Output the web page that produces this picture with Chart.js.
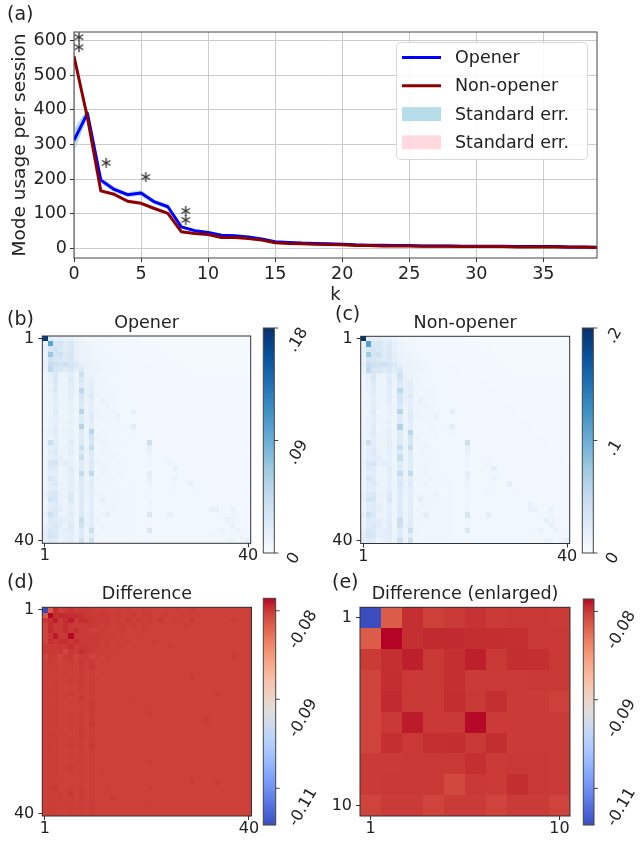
<!DOCTYPE html>
<html>
<head>
<meta charset="utf-8">
<script src="https://cdn.jsdelivr.net/npm/chart.js@4.4.0/dist/chart.umd.min.js"></script>
<style>
  html, body { margin: 0; padding: 0; background: #fff; }
  #fig { position: relative; width: 641px; height: 842px; overflow: hidden; font-family: "DejaVu Sans", sans-serif; color: #222; }
  #fig canvas { position: absolute; }
  .panel { position: absolute; font-size: 19px; line-height: 18px; }
</style>
</head>
<body>
<div id="fig">
  <canvas id="usage" width="641" height="310" style="left:0;top:0"></canvas>
  <canvas id="heat-b" width="320" height="270" style="left:0;top:300px"></canvas>
  <canvas id="heat-c" width="321" height="270" style="left:320px;top:300px"></canvas>
  <canvas id="heat-d" width="320" height="272" style="left:0;top:570px"></canvas>
  <canvas id="heat-e" width="321" height="272" style="left:320px;top:570px"></canvas>
  <canvas id="cb-b" width="66" height="250" style="left:255px;top:320px"></canvas>
  <canvas id="cb-c" width="67" height="250" style="left:574px;top:320px"></canvas>
  <canvas id="cb-d" width="66" height="252" style="left:255px;top:590px"></canvas>
  <canvas id="cb-e" width="66" height="252" style="left:575px;top:590px"></canvas>
  <div class="panel" style="left:7px;top:4px">(a)</div>
  <div class="panel" style="left:7px;top:309px">(b)</div>
  <div class="panel" style="left:335px;top:304px">(c)</div>
  <div class="panel" style="left:7px;top:572px">(d)</div>
  <div class="panel" style="left:332px;top:572px">(e)</div>
</div>
<script>
// ---- panel (a): mode usage per session ----
const kValues = [0, 1, 2, 3, 4, 5, 6, 7, 8, 9, 10, 11, 12, 13, 14, 15, 16, 17, 18, 19,
  20, 21, 22, 23, 24, 25, 26, 27, 28, 29, 30, 31, 32, 33, 34, 35, 36, 37, 38, 39];
const openerUsage = [312, 390, 197, 170, 155, 160, 134, 120, 62, 51, 46, 38, 36, 33, 27, 19, 17, 15, 14, 13,
  12, 10, 9, 9, 8, 8, 7, 7, 7, 6, 6, 6, 6, 5, 5, 5, 5, 4, 4, 3];
const nonOpenerUsage = [555, 378, 166, 156, 136, 130, 115, 101, 48, 43, 40, 31, 31, 28, 24, 16, 14, 13, 12, 11,
  10, 8, 8, 7, 7, 7, 6, 6, 6, 5, 5, 5, 5, 4, 4, 4, 4, 3, 3, 2];
const openerErr = [32, 14, 9, 8, 7, 8, 7, 7, 5, 4, 4, 3, 3, 3, 3, 2, 2, 2, 2, 2,
  2, 2, 2, 2, 2, 1, 1, 1, 1, 1, 1, 1, 1, 1, 1, 1, 1, 1, 1, 1];
const nonOpenerErr = [19, 10, 6, 5, 5, 5, 5, 4, 4, 3, 3, 3, 3, 2, 2, 2, 2, 2, 2, 2,
  2, 2, 1, 1, 1, 1, 1, 1, 1, 1, 1, 1, 1, 1, 1, 1, 1, 1, 1, 1];
// significance markers (*)
const starK = [0.37, 0.37, 2.4, 5.35, 8.33, 8.33];
const starUsage = [610, 581, 247, 206, 108, 82];
const usageXTicks = [0, 5, 10, 15, 20, 25, 30, 35];
const usageYTicks = [0, 100, 200, 300, 400, 500, 600];

// ---- panels (b), (c): transition shares, x 1e-3 ----
const openerShare = [
  [172,20,16,18,14,16,10,8,6,6,5,5,5,4,4,4,4,4,4,3,3,3,3,3,3,3,3,3,3,3,3,3,3,3,3,3,3,3,3,3],
  [12,100,28,30,20,26,16,10,8,7,6,6,5,5,5,5,4,4,4,4,4,4,3,3,3,3,3,3,3,3,3,3,3,3,3,3,3,3,3,3],
  [16,30,34,26,22,28,14,10,9,8,7,6,6,5,5,5,5,4,4,4,4,4,4,4,3,3,3,3,3,3,3,3,3,3,3,3,3,3,3,3],
  [14,70,32,36,24,30,16,12,9,8,8,7,6,6,5,5,5,5,4,4,4,4,4,4,4,3,3,3,3,3,3,3,3,3,3,3,3,3,3,3],
  [12,34,30,28,22,28,18,12,10,9,8,7,7,6,6,5,5,5,5,4,4,4,4,4,4,4,3,3,3,3,3,3,3,3,3,3,3,3,3,3],
  [16,44,38,34,38,32,26,16,12,10,9,8,7,7,6,6,6,5,5,5,5,4,4,4,4,4,4,3,3,3,3,3,3,3,3,3,3,3,3,3],
  [14,50,30,30,22,28,18,24,12,10,10,9,8,7,7,6,6,6,5,5,5,5,4,4,4,4,4,4,3,3,3,3,3,3,3,3,3,3,3,3],
  [10,18,26,12,12,20,10,38,12,10,8,7,7,6,6,6,5,5,5,5,5,5,5,4,4,4,4,4,4,4,4,4,4,4,4,4,4,4,4,4],
  [8,14,28,10,10,22,10,26,14,16,9,8,7,6,6,6,5,5,5,5,5,5,5,5,4,4,4,4,4,4,4,4,4,4,4,4,4,4,4,4],
  [8,12,22,12,10,20,10,22,14,20,8,9,7,7,6,6,5,5,5,5,5,5,5,5,5,4,4,4,4,4,4,4,4,4,4,4,4,4,4,4],
  [9,14,24,10,12,18,10,50,16,18,10,8,8,7,6,6,6,5,5,5,5,5,5,5,5,5,4,4,4,4,4,4,4,4,4,4,4,4,4,4],
  [8,12,18,10,10,20,10,32,14,24,9,8,8,9,6,6,6,5,5,5,5,5,5,5,5,5,5,4,4,4,4,4,4,4,4,4,4,4,4,4],
  [9,12,20,12,10,16,8,30,12,18,8,14,8,7,7,6,6,5,5,5,5,5,5,5,5,5,5,5,4,4,4,4,4,4,4,4,4,4,4,4],
  [8,10,16,10,8,14,9,24,11,16,8,9,12,7,6,6,6,5,5,5,5,5,5,5,5,5,5,5,5,4,4,4,4,4,4,4,4,4,4,4],
  [9,10,22,8,10,14,8,52,11,18,9,7,7,9,6,6,6,16,5,5,5,5,5,5,5,5,5,5,5,5,4,4,4,4,4,4,4,4,4,4],
  [8,12,18,10,8,12,8,22,10,24,8,9,7,7,12,6,6,6,5,5,5,5,5,5,5,5,5,5,5,5,5,4,4,4,4,4,4,4,4,4],
  [9,14,16,10,10,14,9,24,11,20,7,7,9,7,7,6,6,6,5,5,5,5,5,5,5,5,5,5,5,5,5,5,4,4,4,4,4,4,4,4],
  [8,12,20,8,10,12,8,56,11,18,7,7,7,8,6,7,8,22,5,5,5,5,5,5,5,5,5,5,5,5,5,5,5,4,4,4,4,4,4,4],
  [10,14,22,10,12,16,9,24,11,52,7,9,7,7,7,6,6,8,6,5,5,5,5,5,5,5,5,5,5,5,5,5,5,5,4,4,4,4,4,4],
  [9,12,18,12,10,14,8,22,10,32,9,7,7,6,7,6,6,6,6,5,5,5,5,5,5,5,5,5,5,5,5,5,5,5,5,4,4,4,4,4],
  [12,40,20,10,10,20,9,24,11,28,7,9,7,7,7,6,6,6,6,6,40,5,5,5,5,5,5,5,5,5,5,5,5,5,5,5,4,4,4,4],
  [10,16,22,10,12,16,9,40,12,42,7,7,9,7,6,7,6,6,6,6,16,5,5,5,5,5,5,5,5,5,5,5,5,5,5,5,5,4,4,4],
  [9,20,24,12,10,18,9,24,11,24,7,9,7,7,7,6,6,6,6,6,12,6,5,5,5,5,5,5,5,5,5,5,5,5,5,5,5,5,4,4],
  [10,18,20,16,10,14,8,44,11,22,7,7,7,9,7,6,6,6,6,6,8,6,6,5,5,5,5,5,5,5,5,5,5,5,5,5,5,5,5,4],
  [12,28,32,14,20,16,9,22,12,22,9,7,9,7,7,7,6,6,6,6,8,6,6,6,9,5,5,5,5,5,5,5,5,5,5,5,5,5,5,5],
  [10,24,22,10,12,20,9,24,11,24,7,9,7,7,7,6,6,6,6,6,6,6,6,6,6,14,5,5,5,5,5,5,5,5,5,5,5,5,5,5],
  [12,18,20,12,10,18,9,46,12,48,7,9,9,7,7,7,6,6,6,6,18,6,6,6,6,6,6,5,5,5,5,5,5,5,5,5,5,5,5,5],
  [10,30,22,10,10,16,9,24,11,20,9,7,7,9,7,7,6,6,6,6,14,6,6,6,6,12,6,6,5,5,5,5,5,5,5,5,5,5,5,5],
  [12,20,24,14,10,18,9,26,12,22,7,9,9,7,7,7,7,6,6,6,9,6,6,6,6,6,6,6,14,5,5,5,5,5,5,5,5,5,5,5],
  [10,18,20,10,12,16,10,22,11,18,7,7,7,7,7,6,7,6,6,6,7,6,6,6,6,6,6,6,6,7,5,5,5,5,5,5,5,5,5,5],
  [14,24,28,14,12,24,9,24,12,20,9,9,7,7,9,7,7,6,6,6,7,6,6,6,8,6,6,6,6,6,6,5,5,5,5,5,5,5,5,5],
  [12,34,30,12,10,26,10,22,11,20,7,16,7,9,7,7,7,6,6,6,7,6,6,6,6,6,6,6,6,6,6,6,5,5,5,5,5,5,5,5],
  [10,20,22,16,10,18,9,24,11,18,7,9,9,7,7,7,7,6,6,6,9,6,6,6,6,6,6,6,6,6,6,6,6,5,5,5,5,5,5,5],
  [12,22,24,18,12,16,9,22,11,20,7,7,7,9,7,7,7,6,6,6,7,6,6,6,6,6,6,6,6,6,6,6,16,14,6,6,12,5,5,5],
  [14,36,26,12,10,20,9,24,12,22,7,9,16,7,7,7,7,6,6,6,30,6,6,6,16,6,6,6,6,6,6,6,6,6,8,6,10,5,5,5],
  [10,24,22,18,14,18,9,42,11,20,9,7,7,7,7,7,7,6,6,6,7,6,6,6,6,6,6,6,6,6,6,6,6,6,6,16,9,8,5,5],
  [14,22,28,20,10,24,9,36,12,22,7,9,7,7,7,7,7,6,6,6,7,6,6,6,6,6,6,6,6,6,6,6,6,6,6,6,14,6,6,5],
  [16,28,24,14,18,22,10,22,11,40,7,7,7,7,7,7,7,6,6,6,28,6,6,6,6,6,6,6,6,6,6,6,6,6,10,6,6,12,6,6],
  [20,32,30,16,16,20,9,24,11,20,9,7,7,7,7,7,7,6,6,6,7,6,6,6,6,6,6,6,6,6,6,6,8,6,6,6,6,6,8,6],
  [18,24,22,12,14,18,10,36,11,36,7,7,7,7,7,7,7,6,6,6,7,6,6,6,6,6,6,6,6,6,6,6,6,6,6,10,12,6,10,16]
];
const nonOpenerShare = [
  [198,22,18,20,15,17,11,9,7,6,6,5,5,5,4,4,4,4,4,4,3,3,3,3,3,3,3,3,3,3,3,3,3,3,3,3,3,3,3,3],
  [14,112,30,32,22,28,18,11,9,8,7,6,6,5,5,5,5,4,4,4,4,4,4,3,3,3,3,3,3,3,3,3,3,3,3,3,3,3,3,3],
  [18,32,36,30,24,30,16,11,10,9,8,7,6,6,5,5,5,5,4,4,4,4,4,4,4,3,3,3,3,3,3,3,3,3,3,3,3,3,3,3],
  [16,74,36,40,26,32,18,13,10,9,8,8,7,6,6,5,5,5,5,4,4,4,4,4,4,4,3,3,3,3,3,3,3,3,3,3,3,3,3,3],
  [14,36,34,30,24,30,20,13,11,10,9,8,7,7,6,6,5,5,5,5,4,4,4,4,4,4,4,3,3,3,3,3,3,3,3,3,3,3,3,3],
  [18,48,42,36,40,34,28,18,13,11,10,9,8,7,7,6,6,6,5,5,5,5,4,4,4,4,4,4,3,3,3,3,3,3,3,3,3,3,3,3],
  [16,54,34,32,24,30,20,28,13,11,11,10,9,8,7,7,6,6,6,5,5,5,5,4,4,4,4,4,4,3,3,3,3,3,3,3,3,3,3,3],
  [11,20,29,13,13,22,11,42,13,11,9,8,8,7,7,7,6,6,6,6,6,6,6,4,4,4,4,4,4,4,4,4,4,4,4,4,4,4,4,4],
  [9,15,31,11,11,24,11,29,15,18,10,9,8,7,7,7,6,6,6,6,6,6,6,6,4,4,4,4,4,4,4,4,4,4,4,4,4,4,4,4],
  [9,13,24,13,11,22,11,24,15,22,9,10,8,8,7,7,6,6,6,6,6,6,6,6,6,4,4,4,4,4,4,4,4,4,4,4,4,4,4,4],
  [10,15,26,11,13,20,11,55,18,20,11,9,9,8,7,7,7,6,6,6,6,6,6,6,6,6,4,4,4,4,4,4,4,4,4,4,4,4,4,4],
  [9,13,20,11,11,22,11,35,15,26,10,9,9,10,7,7,7,6,6,6,6,6,6,6,6,6,6,4,4,4,4,4,4,4,4,4,4,4,4,4],
  [10,13,22,13,11,18,9,33,13,20,9,15,9,8,8,7,7,6,6,6,6,6,6,6,6,6,6,6,4,4,4,4,4,4,4,4,4,4,4,4],
  [9,11,18,11,9,15,10,26,12,18,9,10,13,8,7,7,7,6,6,6,6,6,6,6,6,6,6,6,6,4,4,4,4,4,4,4,4,4,4,4],
  [10,11,24,9,11,15,9,58,12,20,10,8,8,10,7,7,7,22,6,6,6,6,6,6,6,6,6,6,6,6,4,4,4,4,4,4,4,4,4,4],
  [9,13,20,11,9,13,9,24,11,26,9,10,8,8,14,7,7,7,6,6,6,6,6,6,6,6,6,6,6,6,6,4,4,4,4,4,4,4,4,4],
  [10,15,18,11,11,15,10,26,12,22,8,8,10,8,8,7,7,7,6,6,6,6,6,6,6,6,6,6,6,6,6,6,4,4,4,4,4,4,4,4],
  [9,13,22,9,11,13,9,62,12,20,8,8,8,9,7,8,9,20,6,6,6,6,6,6,6,6,6,6,6,6,6,6,6,4,4,4,4,4,4,4],
  [11,15,24,11,13,18,10,26,12,57,8,10,8,8,8,7,7,9,7,6,6,6,6,6,6,6,6,6,6,6,6,6,6,6,4,4,4,4,4,4],
  [10,13,20,13,11,15,9,24,11,35,10,8,8,7,8,7,7,7,7,6,6,6,6,6,6,6,6,6,6,6,6,6,6,6,6,4,4,4,4,4],
  [13,44,22,11,11,22,10,26,12,31,8,10,8,8,8,7,7,7,7,7,44,6,6,6,6,6,6,6,6,6,6,6,6,6,6,6,4,4,4,4],
  [11,18,24,11,13,18,10,44,13,46,8,8,10,8,7,8,7,7,7,7,18,6,6,6,6,6,6,6,6,6,6,6,6,6,6,6,6,4,4,4],
  [10,22,26,13,11,20,10,26,12,26,8,10,8,8,8,7,7,7,7,7,13,7,6,6,6,6,6,6,6,6,6,6,6,6,6,6,6,6,4,4],
  [11,20,22,18,11,15,9,48,12,24,8,8,8,10,8,7,7,7,7,7,9,7,7,6,6,6,6,6,6,6,6,6,6,6,6,6,6,6,6,4],
  [13,31,35,15,22,18,10,24,13,24,10,8,10,8,8,8,7,7,7,7,9,7,7,7,10,6,6,6,6,6,6,6,6,6,6,6,6,6,6,6],
  [11,26,24,11,13,22,10,26,12,26,8,10,8,8,8,7,7,7,7,7,7,7,7,7,7,18,6,6,6,6,6,6,6,6,6,6,6,6,6,6],
  [13,20,22,13,11,20,10,51,13,53,8,10,10,8,8,8,7,7,7,7,20,7,7,7,7,7,7,6,6,6,6,6,6,6,6,6,6,6,6,6],
  [11,33,24,11,11,18,10,26,12,22,10,8,8,10,8,8,7,7,7,7,15,7,7,7,7,13,7,7,6,6,6,6,6,6,6,6,6,6,6,6],
  [13,22,26,15,11,20,10,29,13,24,8,10,10,8,8,8,8,7,7,7,10,7,7,7,7,7,7,7,18,6,6,6,6,6,6,6,6,6,6,6],
  [11,20,22,11,13,18,11,24,12,20,8,8,8,8,8,7,8,7,7,7,8,7,7,7,7,7,7,7,7,8,6,6,6,6,6,6,6,6,6,6],
  [15,26,31,15,13,26,10,26,13,22,10,10,8,8,10,8,8,7,7,7,8,7,7,7,9,7,7,7,7,7,7,6,6,6,6,6,6,6,6,6],
  [13,37,33,13,11,29,11,24,12,22,8,18,8,10,8,8,8,7,7,7,8,7,7,7,7,7,7,7,7,7,7,7,6,6,6,6,6,6,6,6],
  [11,22,24,18,11,20,10,26,12,20,8,10,10,8,8,8,8,7,7,7,10,7,7,7,7,7,7,7,7,7,7,7,14,6,6,6,6,6,6,6],
  [13,24,26,20,13,18,10,24,12,22,8,8,8,10,8,8,8,7,7,7,8,7,7,7,7,7,7,7,7,7,7,7,16,16,7,7,13,6,6,6],
  [15,40,29,13,11,22,10,26,13,24,8,10,18,8,8,8,8,7,7,7,33,7,7,7,18,7,7,7,7,7,7,7,7,7,9,7,11,6,6,6],
  [11,26,24,20,15,20,10,46,12,22,10,8,8,8,8,8,8,7,7,7,8,7,7,7,7,7,7,7,7,7,7,7,7,7,7,18,10,9,6,6],
  [15,24,31,22,11,26,10,40,13,24,8,10,8,8,8,8,8,7,7,7,8,7,7,7,7,7,7,7,7,7,7,7,7,7,7,7,15,7,7,6],
  [18,31,26,15,20,24,11,24,12,44,8,8,8,8,8,8,8,7,7,7,32,7,7,7,7,7,7,7,7,7,7,7,7,7,11,7,7,13,7,7],
  [22,35,33,18,18,22,10,26,12,22,10,8,8,8,8,8,8,7,7,7,8,7,7,7,7,7,7,7,7,7,7,7,9,7,7,7,7,7,9,7],
  [20,26,24,13,15,20,11,40,12,44,8,8,8,8,8,8,8,7,7,7,8,7,7,7,7,7,7,7,7,7,7,7,7,7,7,11,13,7,11,18]
];
const openerTickLabels = ['0', '.09', '.18'];
const openerTickValues = [0, 0.09, 0.18];
const nonOpenerTickLabels = ['0', '.1', '.2'];
const nonOpenerTickValues = [0, 0.1, 0.2];

// ---- panels (d), (e): difference, x 1e-4 ; (e) is the top-left 10x10 block ----
const diffShare = [
  [-1183,-816,-797,-803,-801,-798,-801,-800,-800,-801,-802,-801,-802,-803,-802,-803,-802,-803,-803,-802,-803,-803,-803,-803,-803,-803,-803,-803,-802,-803,-803,-803,-803,-803,-803,-803,-803,-803,-803,-803],
  [-816,-786,-797,-795,-795,-796,-796,-797,-800,-800,-801,-800,-801,-802,-801,-802,-802,-800,-803,-802,-801,-803,-803,-802,-803,-803,-802,-803,-803,-802,-803,-803,-803,-803,-803,-803,-803,-803,-803,-803],
  [-801,-797,-792,-800,-797,-792,-800,-796,-797,-800,-801,-801,-800,-802,-801,-802,-800,-802,-801,-803,-802,-803,-800,-803,-803,-802,-803,-803,-800,-803,-803,-803,-803,-803,-803,-803,-801,-803,-803,-803],
  [-804,-796,-800,-800,-797,-801,-801,-801,-800,-800,-801,-802,-801,-802,-802,-801,-803,-802,-803,-802,-803,-803,-803,-803,-803,-803,-803,-802,-803,-803,-803,-803,-803,-803,-803,-803,-803,-803,-803,-803],
  [-804,-795,-800,-800,-796,-800,-797,-801,-801,-803,-802,-801,-802,-803,-802,-802,-803,-803,-803,-802,-803,-803,-803,-803,-803,-803,-803,-803,-803,-803,-803,-803,-803,-803,-803,-803,-803,-803,-803,-803],
  [-804,-800,-791,-800,-800,-787,-801,-801,-801,-801,-801,-802,-802,-802,-803,-802,-803,-803,-802,-803,-803,-803,-803,-803,-803,-803,-803,-803,-803,-803,-803,-803,-803,-803,-803,-803,-803,-803,-803,-803],
  [-804,-797,-800,-797,-796,-800,-796,-801,-801,-801,-800,-802,-801,-803,-802,-803,-802,-803,-803,-803,-803,-802,-803,-803,-803,-803,-803,-803,-803,-803,-803,-803,-803,-803,-803,-803,-803,-803,-803,-803],
  [-801,-801,-800,-800,-800,-797,-801,-800,-800,-801,-801,-802,-802,-803,-802,-803,-803,-803,-803,-803,-803,-803,-803,-803,-802,-803,-803,-803,-803,-803,-803,-803,-803,-803,-803,-803,-803,-803,-803,-803],
  [-801,-800,-800,-800,-806,-800,-801,-796,-800,-801,-802,-801,-803,-802,-803,-803,-803,-803,-803,-803,-803,-803,-803,-803,-803,-803,-803,-803,-803,-803,-803,-803,-803,-803,-803,-803,-803,-803,-803,-803],
  [-804,-801,-801,-804,-801,-801,-804,-801,-801,-804,-802,-803,-802,-803,-803,-803,-803,-803,-803,-803,-803,-803,-803,-803,-803,-803,-803,-803,-803,-803,-803,-803,-803,-803,-803,-803,-801,-803,-803,-803],
  [-803,-801,-802,-803,-802,-801,-803,-799,-802,-801,-803,-803,-803,-803,-803,-803,-803,-803,-803,-803,-803,-803,-803,-803,-803,-803,-803,-803,-803,-803,-803,-803,-803,-803,-803,-803,-803,-803,-803,-803],
  [-803,-802,-801,-803,-803,-802,-803,-801,-803,-800,-803,-803,-803,-803,-803,-803,-803,-803,-803,-803,-803,-803,-803,-803,-803,-803,-803,-803,-803,-803,-803,-803,-803,-803,-803,-803,-803,-803,-803,-803],
  [-803,-802,-802,-803,-802,-803,-803,-801,-803,-802,-803,-802,-803,-803,-803,-803,-803,-803,-803,-803,-803,-803,-803,-803,-803,-803,-803,-803,-803,-803,-803,-803,-803,-803,-803,-803,-803,-803,-803,-803],
  [-803,-803,-802,-803,-803,-802,-803,-801,-803,-802,-803,-803,-803,-803,-803,-803,-803,-803,-803,-803,-803,-803,-803,-803,-803,-803,-803,-803,-801,-803,-803,-803,-803,-803,-803,-803,-803,-803,-803,-803],
  [-803,-803,-802,-803,-803,-802,-803,-800,-803,-802,-803,-803,-803,-803,-803,-803,-803,-803,-803,-803,-803,-803,-803,-803,-803,-803,-803,-803,-803,-803,-803,-803,-803,-803,-803,-803,-803,-803,-803,-803],
  [-803,-802,-802,-803,-803,-803,-803,-802,-803,-801,-803,-803,-803,-803,-803,-803,-803,-803,-803,-803,-803,-803,-803,-803,-803,-803,-803,-803,-803,-803,-803,-803,-803,-803,-803,-803,-803,-803,-803,-803],
  [-803,-802,-802,-803,-803,-802,-803,-802,-803,-802,-803,-803,-803,-803,-803,-803,-803,-803,-803,-803,-803,-803,-803,-803,-803,-803,-803,-803,-803,-803,-803,-803,-803,-801,-803,-803,-803,-803,-803,-803],
  [-803,-803,-802,-803,-803,-803,-803,-800,-803,-802,-803,-803,-803,-803,-803,-803,-803,-802,-803,-803,-803,-803,-803,-803,-803,-803,-803,-803,-803,-803,-803,-803,-803,-803,-803,-803,-803,-803,-803,-803],
  [-803,-802,-802,-803,-803,-802,-803,-802,-803,-800,-803,-803,-803,-803,-803,-803,-803,-803,-803,-803,-803,-803,-803,-803,-803,-803,-803,-803,-803,-803,-803,-803,-803,-803,-803,-803,-803,-803,-803,-803],
  [-803,-802,-802,-803,-803,-803,-803,-802,-803,-801,-803,-803,-803,-803,-803,-803,-803,-803,-803,-803,-802,-803,-803,-803,-803,-803,-803,-803,-803,-803,-803,-803,-803,-803,-803,-803,-803,-803,-803,-803],
  [-803,-801,-802,-803,-803,-802,-803,-802,-803,-801,-803,-803,-803,-803,-803,-803,-803,-803,-803,-803,-801,-803,-803,-803,-803,-803,-803,-803,-803,-803,-803,-803,-803,-803,-803,-803,-803,-803,-803,-803],
  [-803,-802,-802,-803,-803,-802,-803,-801,-803,-801,-803,-803,-803,-803,-803,-803,-803,-803,-803,-803,-803,-803,-803,-803,-803,-803,-803,-803,-803,-803,-803,-801,-803,-803,-803,-803,-803,-803,-803,-803],
  [-803,-802,-801,-803,-803,-802,-803,-802,-803,-800,-803,-803,-803,-803,-803,-803,-803,-803,-803,-803,-803,-803,-803,-803,-803,-803,-803,-803,-803,-803,-803,-803,-803,-803,-803,-803,-803,-803,-803,-803],
  [-803,-802,-802,-802,-803,-803,-803,-801,-803,-802,-803,-803,-803,-803,-803,-803,-803,-803,-803,-803,-803,-803,-803,-803,-803,-803,-803,-803,-803,-803,-803,-803,-803,-803,-803,-803,-803,-803,-803,-803],
  [-803,-801,-801,-803,-802,-803,-803,-800,-803,-802,-803,-803,-803,-803,-803,-803,-803,-803,-803,-803,-803,-803,-803,-803,-803,-803,-803,-803,-803,-803,-803,-803,-803,-803,-803,-803,-803,-803,-803,-803],
  [-803,-802,-802,-803,-803,-802,-803,-802,-803,-802,-803,-803,-803,-803,-803,-803,-803,-803,-803,-803,-803,-803,-803,-803,-803,-803,-803,-803,-803,-803,-803,-803,-803,-803,-803,-803,-803,-803,-803,-803],
  [-803,-802,-802,-803,-803,-802,-803,-801,-803,-800,-803,-803,-803,-803,-803,-803,-803,-803,-803,-803,-803,-803,-803,-803,-803,-803,-803,-803,-803,-803,-803,-803,-803,-803,-803,-803,-803,-803,-803,-803],
  [-803,-801,-802,-803,-803,-803,-803,-802,-803,-802,-803,-803,-803,-803,-803,-803,-803,-803,-803,-803,-803,-803,-803,-803,-803,-803,-803,-803,-803,-803,-803,-803,-803,-803,-803,-803,-803,-803,-803,-803],
  [-803,-802,-802,-803,-803,-802,-803,-802,-803,-802,-803,-803,-803,-803,-803,-803,-803,-803,-803,-803,-803,-803,-803,-803,-803,-803,-803,-803,-803,-803,-803,-803,-803,-803,-803,-803,-803,-803,-803,-803],
  [-803,-802,-802,-803,-803,-803,-803,-802,-803,-802,-803,-803,-803,-803,-803,-803,-803,-803,-803,-803,-802,-803,-803,-803,-803,-803,-803,-803,-803,-803,-803,-803,-803,-803,-803,-803,-803,-803,-803,-803],
  [-803,-802,-802,-803,-803,-802,-803,-802,-803,-802,-803,-803,-803,-803,-803,-803,-803,-803,-803,-803,-803,-803,-803,-803,-803,-803,-803,-803,-803,-803,-803,-803,-803,-803,-803,-803,-803,-803,-803,-803],
  [-803,-801,-802,-803,-803,-802,-803,-802,-803,-802,-803,-802,-803,-803,-803,-803,-803,-803,-803,-803,-803,-803,-803,-803,-803,-803,-803,-803,-803,-803,-803,-803,-803,-803,-803,-803,-803,-803,-803,-803],
  [-803,-802,-802,-803,-803,-803,-803,-802,-803,-802,-803,-803,-803,-803,-803,-803,-803,-803,-803,-803,-803,-803,-803,-803,-803,-803,-803,-803,-803,-803,-803,-803,-803,-803,-803,-803,-803,-803,-803,-803],
  [-803,-802,-802,-802,-803,-803,-803,-802,-803,-802,-803,-803,-803,-803,-803,-803,-803,-803,-803,-803,-803,-803,-803,-803,-803,-803,-803,-803,-801,-803,-803,-803,-803,-801,-803,-803,-803,-803,-803,-803],
  [-803,-801,-800,-803,-803,-802,-803,-802,-803,-802,-803,-803,-802,-803,-803,-803,-803,-803,-803,-803,-802,-803,-803,-803,-803,-803,-803,-803,-803,-803,-803,-803,-803,-803,-803,-803,-803,-803,-803,-803],
  [-803,-802,-802,-802,-803,-800,-803,-800,-803,-802,-803,-803,-803,-803,-803,-803,-803,-803,-803,-803,-803,-803,-803,-803,-803,-803,-803,-803,-803,-803,-803,-803,-803,-803,-803,-803,-803,-803,-803,-803],
  [-803,-802,-802,-802,-803,-802,-803,-801,-803,-802,-803,-803,-803,-801,-803,-803,-803,-803,-803,-803,-803,-803,-803,-803,-803,-803,-803,-803,-803,-803,-803,-803,-803,-803,-803,-803,-803,-803,-803,-803],
  [-803,-802,-802,-803,-802,-802,-803,-802,-803,-801,-803,-803,-803,-803,-803,-803,-803,-803,-803,-803,-802,-803,-803,-803,-803,-803,-803,-803,-803,-803,-803,-803,-803,-803,-803,-803,-803,-803,-803,-803],
  [-803,-802,-802,-802,-803,-802,-803,-802,-803,-802,-803,-803,-803,-803,-803,-803,-803,-803,-803,-803,-803,-803,-803,-803,-803,-803,-803,-803,-803,-803,-803,-803,-803,-803,-803,-803,-803,-803,-803,-803],
  [-803,-802,-802,-803,-803,-803,-803,-802,-803,-802,-803,-803,-803,-803,-803,-803,-803,-803,-803,-803,-803,-803,-803,-803,-803,-803,-803,-803,-803,-803,-803,-803,-803,-803,-803,-803,-803,-803,-803,-803]
];
const diffTickLabels = ['-0.11', '-0.09', '-0.08'];
const diffTickValues = [-0.11, -0.09, -0.08];

// ---- colour maps ----
const BLUES = [[247,251,255],[222,235,247],[198,219,239],[158,202,225],[107,174,214],
  [66,146,198],[33,113,181],[8,81,156],[8,48,107]];
const COOLWARM = [[59,76,192],[68,90,204],[77,104,215],[87,117,225],[98,130,234],[108,142,241],
  [119,154,247],[130,165,251],[141,176,254],[152,185,255],[163,194,255],[174,201,253],[184,208,249],
  [194,213,244],[204,217,238],[213,219,230],[221,221,221],[229,216,209],[236,211,197],[241,204,185],
  [245,196,173],[247,187,160],[247,177,148],[247,166,135],[244,154,123],[241,141,111],[236,127,99],
  [229,112,88],[222,96,77],[213,80,66],[203,62,56],[192,40,47],[180,4,38]];
// the difference colour bar is not linear: value -> bar position
const DIFF_NORM_V = [-0.1183, -0.11, -0.09, -0.08, -0.0786];
const DIFF_NORM_T = [0, 0.162, 0.5545, 0.945, 1];

function sample(stops, t) {
  t = Math.min(1, Math.max(0, t));
  const p = t * (stops.length - 1);
  const i = Math.min(Math.floor(p), stops.length - 2);
  const f = p - i;
  const a = stops[i], b = stops[i + 1];
  return `rgb(${a.map((c, k) => Math.round(c + (b[k] - c) * f)).join(',')})`;
}
function diffNorm(v) {
  const n = DIFF_NORM_V.length;
  for (let i = 0; i < n - 1; i++) {
    if (v <= DIFF_NORM_V[i + 1] || i === n - 2) {
      const f = (v - DIFF_NORM_V[i]) / (DIFF_NORM_V[i + 1] - DIFF_NORM_V[i]);
      return DIFF_NORM_T[i] + f * (DIFF_NORM_T[i + 1] - DIFF_NORM_T[i]);
    }
  }
}

Chart.defaults.font.family = "'DejaVu Sans', sans-serif";
Chart.defaults.color = '#222';
Chart.defaults.animation = false;
Chart.defaults.responsive = false;
Chart.defaults.plugins.legend.display = false;
Chart.defaults.plugins.tooltip.enabled = false;

// box round the plot area
const frame = {
  id: 'frame',
  afterDatasetsDraw(chart, args, opts) {
    const a = chart.chartArea;
    const ctx = chart.ctx;
    ctx.save();
    ctx.strokeStyle = opts.color || '#333';
    ctx.lineWidth = 1;
    ctx.strokeRect(a.left, a.top, a.right - a.left, a.bottom - a.top);
    ctx.restore();
  }
};

// legend box drawn inside the plot, upper right
const boxLegend = {
  id: 'boxLegend',
  afterDraw(chart, args, opts) {
    const {ctx, chartArea: a} = chart;
    const w = 191, h = 117;
    const x0 = a.right - 10 - w, y0 = a.top + 10;
    ctx.save();
    ctx.beginPath();
    ctx.roundRect(x0 + 0.5, y0 + 0.5, w, h, 4);
    ctx.fillStyle = 'rgba(255,255,255,0.85)';
    ctx.fill();
    ctx.strokeStyle = '#d8d8d8';
    ctx.lineWidth = 1;
    ctx.stroke();
    ctx.font = "17.5px 'DejaVu Sans'";
    ctx.textBaseline = 'middle';
    opts.items.forEach((item, i) => {
      const ds = chart.data.datasets[item.index];
      const cy = y0 + 15.5 + i * 28.3;
      if (item.kind === 'line') {
        ctx.strokeStyle = ds.borderColor;
        ctx.lineWidth = 3;
        ctx.beginPath();
        ctx.moveTo(x0 + 6, cy);
        ctx.lineTo(x0 + 45, cy);
        ctx.stroke();
      } else {
        ctx.fillStyle = ds.backgroundColor;
        ctx.fillRect(x0 + 6, cy - 7, 39, 14);
      }
      ctx.fillStyle = '#222';
      ctx.fillText(ds.label, x0 + 59, cy + 1);
    });
    ctx.restore();
  }
};

function asteriskMark(size, color) {
  const c = document.createElement('canvas');
  c.width = c.height = size;
  const g = c.getContext('2d');
  g.strokeStyle = color;
  g.lineWidth = 1.3;
  const m = size / 2, r = size / 2 - 1;
  [90, 30, 150].forEach(deg => {
    const t = deg * Math.PI / 180;
    g.beginPath();
    g.moveTo(m - r * Math.cos(t), m - r * Math.sin(t));
    g.lineTo(m + r * Math.cos(t), m + r * Math.sin(t));
    g.stroke();
  });
  return c;
}

const asPoints = ys => kValues.map((k, i) => ({x: k, y: ys[i]}));
const errEdge = (ys, err, sign) => kValues.map((k, i) => ({x: k, y: ys[i] + sign * err[i]}));
const fixedTicks = list => scale => { scale.ticks = list.map(v => ({value: v})); };

new Chart(document.getElementById('usage'), {
  type: 'line',
  data: {
    datasets: [
      {label: 'Non-opener', data: asPoints(nonOpenerUsage), borderColor: '#8b0000', borderWidth: 3,
        pointRadius: 0, fill: false, tension: 0, borderJoinStyle: 'round'},
      {label: 'Opener', data: asPoints(openerUsage), borderColor: '#0000ff', borderWidth: 3,
        pointRadius: 0, fill: false, tension: 0, borderJoinStyle: 'round'},
      {label: 'opener low', data: errEdge(openerUsage, openerErr, -1), borderColor: 'transparent',
        pointRadius: 0, fill: false},
      {label: 'Standard err.', data: errEdge(openerUsage, openerErr, 1), borderColor: 'transparent',
        pointRadius: 0, fill: {target: 2}, backgroundColor: 'rgba(173,216,230,0.9)'},
      {label: 'non-opener low', data: errEdge(nonOpenerUsage, nonOpenerErr, -1), borderColor: 'transparent',
        pointRadius: 0, fill: false},
      {label: 'Standard err.', data: errEdge(nonOpenerUsage, nonOpenerErr, 1), borderColor: 'transparent',
        pointRadius: 0, fill: {target: 4}, backgroundColor: 'rgba(255,192,203,0.6)'},
      {label: 'significant', data: starK.map((k, i) => ({x: k, y: starUsage[i]})), showLine: false,
        pointStyle: asteriskMark(12, '#333'), pointRadius: 6}
    ]
  },
  options: {
    events: [],
    layout: {padding: {left: 0, top: 32, right: 44, bottom: 0}},
    plugins: {
      frame: {color: '#444'},
      boxLegend: {items: [{index: 1, kind: 'line'}, {index: 0, kind: 'line'},
        {index: 3, kind: 'patch'}, {index: 5, kind: 'patch'}]}
    },
    scales: {
      x: {
        type: 'linear', min: 0, max: 39,
        afterBuildTicks: fixedTicks(usageXTicks),
        afterFit: s => { s.height = 52; },
        grid: {color: '#cccccc', lineWidth: 1, tickColor: '#333', tickLength: 4},
        border: {display: false},
        ticks: {font: {size: 17.5}, padding: 2, maxRotation: 0, color: '#222'},
        title: {display: true, text: 'k', font: {size: 18}, padding: {top: 0, bottom: 4}, color: '#222'}
      },
      y: {
        type: 'linear', min: -28, max: 625,
        afterBuildTicks: fixedTicks(usageYTicks),
        afterFit: s => { s.width = 74; },
        grid: {color: '#cccccc', lineWidth: 1, tickColor: '#333', tickLength: 4},
        border: {display: false},
        ticks: {font: {size: 17.5}, padding: 3, color: '#222'},
        title: {display: true, text: 'Mode usage per session', font: {size: 18.5}, padding: {top: 9, bottom: 0}, color: '#222'}
      }
    }
  },
  plugins: [frame, boxLegend]
});

// cells of a heat map, placed through the chart's own x / y scales
const heatCells = {
  id: 'heatCells',
  beforeDatasetsDraw(chart) {
    const {ctx, scales: {x, y}} = chart;
    const ds = chart.data.datasets[0];
    ctx.save();
    ds.data.forEach(p => {
      const xa = Math.round(x.getPixelForValue(p.x - 0.5)), xb = Math.round(x.getPixelForValue(p.x + 0.5));
      const ya = Math.round(y.getPixelForValue(p.y - 0.5)), yb = Math.round(y.getPixelForValue(p.y + 0.5));
      ctx.fillStyle = ds.colorOf(p.v);
      ctx.fillRect(Math.min(xa, xb), Math.min(ya, yb), Math.abs(xb - xa), Math.abs(yb - ya));
    });
    ctx.restore();
  }
};

function heatChart(id, matrix, unit, colorOf, tickVals, area, title) {
  const canvas = document.getElementById(id);
  const W = canvas.width, H = canvas.height;
  const n = matrix.length;
  const cells = [];
  matrix.forEach((row, r) => row.forEach((v, c) => cells.push({x: c + 1, y: r + 1, v: v * unit})));
  const grid = {drawOnChartArea: false, drawTicks: true, tickLength: 4, tickColor: '#333', tickWidth: 1};
  return new Chart(canvas, {
    type: 'scatter',
    data: {datasets: [{data: cells, pointRadius: 0, colorOf}]},
    options: {
      events: [],
      layout: {padding: {left: 0, top: area.top - 23.5, right: W - area.right, bottom: 0}},
      plugins: {
        title: {display: true, text: title, fullSize: false, color: '#222',
          font: {size: 17.5, weight: 'normal', lineHeight: 1.2}, padding: {top: 0, bottom: 2.5}},
        frame: {color: '#333'}
      },
      scales: {
        x: {type: 'linear', min: 0.5, max: n + 0.5, afterBuildTicks: fixedTicks(tickVals),
          afterFit: s => { s.height = H - area.bottom; }, grid, border: {display: false},
          ticks: {font: {size: 16, lineHeight: 1}, padding: 1, maxRotation: 0, color: '#222'}},
        y: {type: 'linear', reverse: true, min: 0.5, max: n + 0.5, afterBuildTicks: fixedTicks(tickVals),
          afterFit: s => { s.width = area.left; }, grid, border: {display: false},
          ticks: {font: {size: 16, lineHeight: 1}, padding: 4, color: '#222'}}
      }
    },
    plugins: [heatCells, frame]
  });
}

// colour bar with rotated tick labels
const colorbar = {
  id: 'colorbar',
  afterDraw(chart, args, opts) {
    const {ctx, chartArea: a, scales: {y}} = chart;
    ctx.save();
    const g = ctx.createLinearGradient(0, a.bottom, 0, a.top);
    opts.stops.forEach((c, i) => g.addColorStop(i / (opts.stops.length - 1), `rgb(${c.join(',')})`));
    ctx.fillStyle = g;
    ctx.fillRect(a.left, a.top, a.right - a.left, a.bottom - a.top);
    ctx.strokeStyle = '#444';
    ctx.lineWidth = 1;
    ctx.strokeRect(a.left, a.top, a.right - a.left, a.bottom - a.top);
    ctx.font = "16px 'DejaVu Sans'";
    ctx.fillStyle = '#222';
    opts.ticks.forEach(t => {
      const py = y.getPixelForValue(t.value);
      ctx.beginPath();
      ctx.moveTo(a.right, py);
      ctx.lineTo(a.right + 4, py);
      ctx.stroke();
      const L = ctx.measureText(t.label).width, h = 12;
      ctx.save();
      ctx.translate(a.right + 12 + 0.433 * h, py - 2 + 0.866 * L + 0.25 * h);
      ctx.rotate(-Math.PI / 3);
      ctx.textAlign = 'left';
      ctx.textBaseline = 'middle';
      ctx.fillText(t.label, 0, 0);
      ctx.restore();
    });
    ctx.restore();
  }
};

function colorbarChart(id, stops, min, max, ticks, area) {
  const canvas = document.getElementById(id);
  return new Chart(canvas, {
    type: 'scatter',
    data: {datasets: []},
    options: {
      events: [],
      layout: {padding: {left: area.left, top: area.top, right: canvas.width - area.right, bottom: canvas.height - area.bottom}},
      plugins: {colorbar: {stops, ticks}},
      scales: {x: {display: false}, y: {display: false, min, max}}
    },
    plugins: [colorbar]
  });
}

const diffBlock = diffShare.slice(0, 10).map(row => row.slice(0, 10));
const diffColor = v => sample(COOLWARM, diffNorm(v));
const diffTicks = diffTickValues.map((v, i) => ({value: diffNorm(v), label: diffTickLabels[i]}));

heatChart('heat-b', openerShare, 1e-3, v => sample(BLUES, v / 0.18), [1, 40],
  {left: 42.3, top: 36, right: 250.7, bottom: 243.3}, 'Opener');
heatChart('heat-c', nonOpenerShare, 1e-3, v => sample(BLUES, v / 0.2), [1, 40],
  {left: 40.7, top: 36.3, right: 249.7, bottom: 243.5}, 'Non-opener');
heatChart('heat-d', diffShare, 1e-4, diffColor, [1, 40],
  {left: 42.3, top: 37.3, right: 251.5, bottom: 246}, 'Difference');
heatChart('heat-e', diffBlock, 1e-4, diffColor, [1, 10],
  {left: 40, top: 37.3, right: 250, bottom: 246}, 'Difference (enlarged)');

colorbarChart('cb-b', BLUES, 0, 0.18, openerTickValues.map((v, i) => ({value: v, label: openerTickLabels[i]})),
  {left: 8.3, top: 8, right: 19.3, bottom: 233});
colorbarChart('cb-c', BLUES, 0, 0.2, nonOpenerTickValues.map((v, i) => ({value: v, label: nonOpenerTickLabels[i]})),
  {left: 8.3, top: 8, right: 19.3, bottom: 233});
colorbarChart('cb-d', COOLWARM, 0, 1, diffTicks, {left: 8.3, top: 8.3, right: 20.7, bottom: 235});
colorbarChart('cb-e', COOLWARM, 0, 1, diffTicks, {left: 8.3, top: 9, right: 19, bottom: 235});
</script>
</body>
</html>
